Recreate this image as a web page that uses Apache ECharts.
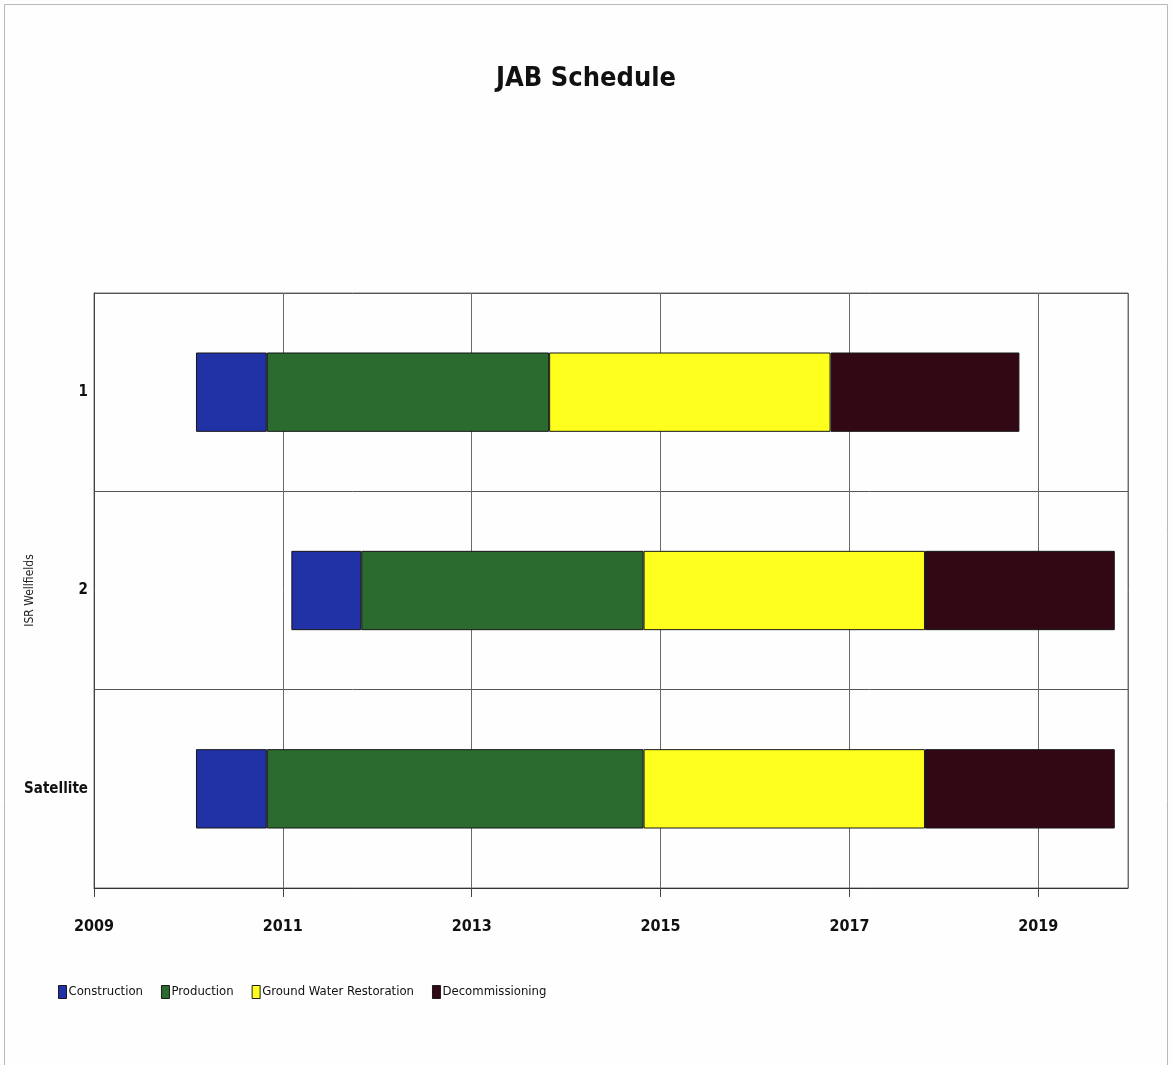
<!DOCTYPE html>
<html>
<head>
<meta charset="utf-8">
<title>JAB Schedule</title>
<script src="https://cdn.jsdelivr.net/npm/echarts@6/dist/echarts.min.js"></script>
<style>
  html, body { margin: 0; padding: 0; background: #ffffff; }
  #chart { width: 1172px; height: 1065px; }
</style>
</head>
<body>
<div id="chart"></div>
<script>
// Wellfield rows, top to bottom
const categories = ['1', '2', 'Satellite'];

// Year each wellfield's schedule begins
const startYear = [2010.08, 2011.09, 2010.08];

// Phase durations in years
const construction = [0.75, 0.74, 0.75];
const production = [2.99, 2.99, 3.99];
const restoration = [2.98, 2.98, 2.98];
const decommissioning = [2.0, 2.01, 2.01];

// Time axis range and tick step
const yearMin = 2009;
const yearMax = 2019.95;
const yearStep = 2;

const phaseNames = ['Construction', 'Production', 'Ground Water Restoration', 'Decommissioning'];
const phaseData = [construction, production, restoration, decommissioning];
const phaseColors = ['#2132a6', '#2b6b30', '#ffff1e', '#320815'];

const narrow = "'Liberation Sans Narrow', 'Arial Narrow', 'DejaVu Sans Condensed', sans-serif";

const chart = echarts.init(document.getElementById('chart'), null, { renderer: 'canvas' });

const phaseSeries = phaseNames.map((name, i) => ({
  name: name,
  type: 'bar',
  stack: 'schedule',
  barWidth: '40%',
  data: phaseData[i],
  itemStyle: { color: phaseColors[i], borderColor: '#161616', borderWidth: 1 },
  emphasis: { disabled: true }
}));

chart.setOption({
  backgroundColor: '#fefefe',
  animation: false,
  title: {
    text: 'JAB Schedule',
    left: 'center',
    top: 60,
    textStyle: { fontFamily: narrow, fontWeight: 'bold', fontSize: 27, color: '#111' }
  },
  legend: {
    data: phaseNames,
    left: 53,
    top: 980,
    icon: 'rect',
    itemWidth: 8,
    itemHeight: 13,
    itemGap: 18,
    itemStyle: { borderColor: '#1a1a1a', borderWidth: 1 },
    textStyle: { fontFamily: narrow, fontSize: 13, color: '#111', padding: [0, 0, 0, -3] }
  },
  grid: {
    left: 94,
    right: 44,
    top: 293,
    bottom: 177,
    containLabel: false,
    outerBoundsMode: 'none',
    show: true,
    borderColor: '#777',
    borderWidth: 1
  },
  xAxis: {
    type: 'value',
    min: yearMin,
    max: yearMax,
    interval: yearStep,
    axisLine: { show: true, lineStyle: { color: '#333', width: 1 } },
    axisTick: { show: true, length: 9, lineStyle: { color: '#444' } },
    splitLine: { show: true, lineStyle: { color: '#6a6a6a', width: 1 } },
    axisLabel: {
      showMaxLabel: false,
      margin: 31,
      fontFamily: narrow,
      fontWeight: 'bold',
      fontSize: 16,
      color: '#111',
      formatter: v => (Number.isInteger(v) ? String(v) : '')
    }
  },
  yAxis: {
    type: 'category',
    data: categories,
    inverse: true,
    name: 'ISR Wellfields',
    nameLocation: 'middle',
    nameRotate: 90,
    nameGap: 58,
    nameMoveOverlap: false,
    nameTextStyle: { fontFamily: narrow, fontSize: 12, color: '#222' },
    axisLine: { show: true, lineStyle: { color: '#444', width: 1 } },
    axisTick: { show: false },
    splitLine: { show: true, lineStyle: { color: '#555', width: 1 } },
    axisLabel: {
      margin: 6,
      fontFamily: narrow,
      fontWeight: 'bold',
      fontSize: 15,
      color: '#111'
    }
  },
  graphic: [{
    type: 'rect',
    shape: { x: 4.5, y: 4.5, width: 1163, height: 1070 },
    style: { fill: 'none', stroke: '#b8b8b8', lineWidth: 1 },
    silent: true
  }],
  series: [{
    name: 'Start',
    type: 'bar',
    stack: 'schedule',
    barWidth: '40%',
    data: startYear,
    itemStyle: { color: 'rgba(0,0,0,0)' },
    silent: true,
    emphasis: { disabled: true }
  }].concat(phaseSeries)
});
</script>
</body>
</html>
